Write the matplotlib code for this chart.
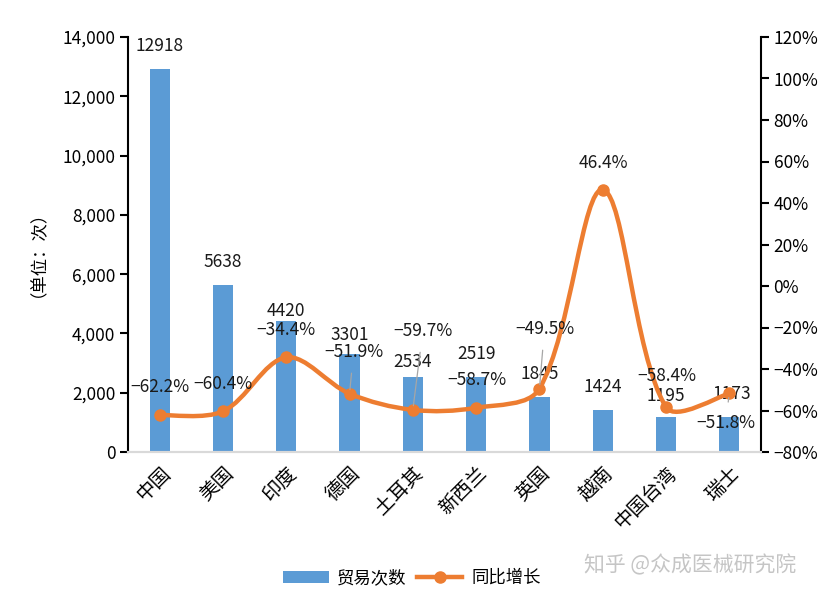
import numpy as np
import matplotlib
matplotlib.use('Agg')
import matplotlib.pyplot as plt
from matplotlib.path import Path
from matplotlib.patches import PathPatch, Patch
from matplotlib.lines import Line2D
from matplotlib.ticker import FuncFormatter, MultipleLocator

plt.rcParams['font.family'] = ['Noto Sans CJK SC', 'DejaVu Sans']

#data
#------------------
countries = ['中国', '美国', '印度', '德国', '土耳其', '新西兰', '英国', '越南', '中国台湾', '瑞士']
trades = [12918, 5638, 4420, 3301, 2534, 2519, 1845, 1424, 1195, 1173]
growth = [-62.2, -60.4, -34.4, -51.9, -59.7, -58.7, -49.5, 46.4, -58.4, -51.8]

#label offsets in pixels (dx, dy), dy>0 is down
bar_off = [(0, -23), (0, -23), (0, -10), (0, -19), (0, -15),
           (0, -23), (0, -23), (0, -23), (0, -21), (2, -23)]
line_off = [(0, -28), (0, -27), (0, -27), (4, -42), (10, -79),
            (1, -28), (5, -60), (1, -27), (1, -31), (-4, 30)]
leader = [False, False, False, True, True, False, True, False, False, True]

bar_color = '#5B9BD5'
line_color = '#ED7D31'

fig = plt.figure(figsize=(8.35, 5.98), dpi=100)
ax1 = fig.add_axes([128/835, 1-452/598, 633/835, 415/598])
ax2 = ax1.twinx()

x = np.arange(len(countries))
ax1.bar(x, trades, width=0.32, color=bar_color, zorder=2)
ax1.set_xlim(-0.5, len(countries)-0.5)
ax1.set_ylim(0, 14000)
ax1.yaxis.set_major_locator(MultipleLocator(2000))
ax1.yaxis.set_major_formatter(FuncFormatter(lambda v, p: f'{int(v):,}'))
ax2.set_ylim(-80, 120)
ax2.yaxis.set_major_locator(MultipleLocator(20))
ax2.yaxis.set_major_formatter(FuncFormatter(lambda v, p: f'{int(round(v))}%'.replace('-', '−')))

for a in (ax1, ax2):
    a.spines['top'].set_visible(False)
    a.spines['bottom'].set_color('#d9d9d9')
    a.spines['bottom'].set_linewidth(1.5)
    a.spines['left'].set_linewidth(1.5)
    a.spines['right'].set_linewidth(1.5)
    a.tick_params(axis='y', direction='out', length=6, width=1.5, labelsize=12.5, pad=3)
ax2.spines['left'].set_visible(False)
ax1.spines['right'].set_visible(False)

ax1.set_xticks(x)
ax1.set_xticklabels(countries, rotation=45, ha='right', rotation_mode='anchor', fontsize=14)
ax1.tick_params(axis='x', length=0, pad=8)

ax1.set_ylabel('（单位：次）', fontsize=12.5)
ax1.yaxis.set_label_coords(-0.142, 0.5)

#smoothed line (bezier through points, control lengths scaled by chord length on screen)
sx, sy = 63.3, 2.075
px = x * sx
py = np.array(growth) * sy
n = len(px)
verts = [(x[0], growth[0])]
codes = [Path.MOVETO]
def ctrl(i, toward):
    lo = max(i-1, 0)
    hi = min(i+1, n-1)
    dx, dy = px[hi]-px[lo], py[hi]-py[lo]
    dp = np.hypot(px[i]-px[lo], py[i]-py[lo])
    dn = np.hypot(px[hi]-px[i], py[hi]-py[i])
    if lo == i or hi == i:
        f = 0.5
    else:
        f = (dn if toward > 0 else dp) / (dp+dn)
    cx = px[i] + toward*dx*f/3
    cy = py[i] + toward*dy*f/3
    return (cx/sx, cy/sy)
for i in range(n-1):
    verts += [ctrl(i, 1), ctrl(i+1, -1), (x[i+1], growth[i+1])]
    codes += [Path.CURVE4]*3
ax2.add_patch(PathPatch(Path(verts, codes), facecolor='none', edgecolor=line_color,
                        lw=3.2, capstyle='round', zorder=3))
ax2.plot(x, growth, 'o', color=line_color, markersize=8, zorder=4)

#labels
for i in range(n):
    ax1.annotate(f'{trades[i]}', (x[i], trades[i]), xytext=(bar_off[i][0], -bar_off[i][1]),
                 textcoords='offset pixels', ha='center', va='center', fontsize=12.5,
                 color='#1a1a1a', zorder=5)
    props = dict(arrowstyle='-', color='#a6a6a6', lw=0.9, shrinkA=7, shrinkB=3) if leader[i] else None
    ax2.annotate(f'{growth[i]}%'.replace('-', '−'), (x[i], growth[i]),
                 xytext=(line_off[i][0], -line_off[i][1]), textcoords='offset pixels',
                 ha='center', va='center', fontsize=12.5, color='#1a1a1a',
                 arrowprops=props, zorder=5)

handles = [Patch(facecolor=bar_color), Line2D([0], [0], color=line_color, lw=3.2, marker='o', markersize=8)]
fig.legend(handles, ['贸易次数', '同比增长'], loc='center', bbox_to_anchor=(412/835, 1-578/598),
           ncol=2, frameon=False, fontsize=12.5, handlelength=2.6, columnspacing=0.6, handletextpad=0.5)

fig.text(690/835, 1-565/598, '知乎 @众成医械研究院', ha='center', va='center', fontsize=15,
         color='#bfbfbf', alpha=0.9)

fig.savefig('out.png', dpi=100)
